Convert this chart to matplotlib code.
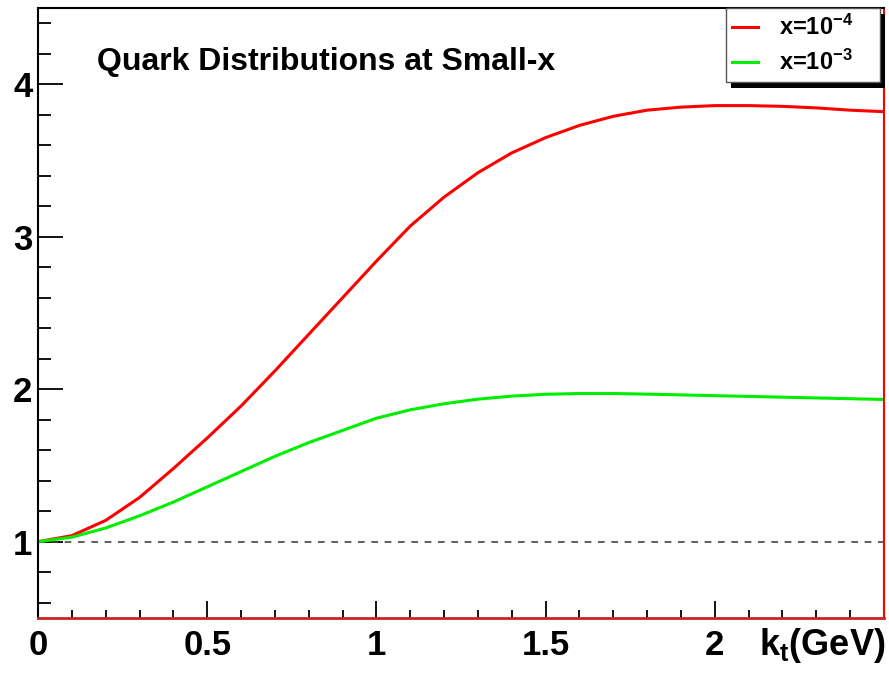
import matplotlib
matplotlib.use("Agg")
import matplotlib.pyplot as plt
from matplotlib.patches import Rectangle
from matplotlib.lines import Line2D
from matplotlib.ticker import MultipleLocator

plt.rcParams['font.family'] = ['Liberation Sans', 'DejaVu Sans']
plt.rcParams['mathtext.fontset'] = 'custom'
plt.rcParams['mathtext.rm'] = 'Liberation Sans:bold'
plt.rcParams['mathtext.bf'] = 'Liberation Sans:bold'
plt.rcParams['mathtext.it'] = 'Liberation Sans:bold'

kt = [0.0, 0.1, 0.2, 0.3, 0.4, 0.5, 0.6, 0.7, 0.8, 0.9, 1.0, 1.1, 1.2,
      1.3, 1.4, 1.5, 1.6, 1.7, 1.8, 1.9, 2.0, 2.1, 2.2, 2.3, 2.4, 2.5]
red_x1e4 = [1.00, 1.04, 1.14, 1.29, 1.48, 1.68, 1.89, 2.12, 2.36, 2.60, 2.84,
            3.07, 3.26, 3.42, 3.55, 3.65, 3.73, 3.79, 3.83, 3.85, 3.86, 3.86,
            3.855, 3.845, 3.83, 3.82]
green_x1e3 = [1.00, 1.03, 1.09, 1.17, 1.26, 1.36, 1.46, 1.56, 1.65, 1.73, 1.81,
              1.865, 1.905, 1.935, 1.955, 1.967, 1.972, 1.972, 1.968, 1.963,
              1.958, 1.953, 1.948, 1.943, 1.938, 1.933]
labels = [r'x=10$^{\mathregular{-4}}$', r'x=10$^{\mathregular{-3}}$']
colors = ['#ff0000', '#00ee00']
title = 'Quark Distributions at Small-x'
xlabel = r'k$_{\mathregular{t}}$(GeV)'

W, H = 889, 673
fig = plt.figure(figsize=(W/100, H/100), dpi=100)
ax = fig.add_axes([38/W, 1-618/H, (884-38)/W, (618-8)/H])

ax.axhline(1.0, color='#444444', lw=1.2, ls=(0, (4, 4)))
ax.plot(kt, red_x1e4, color=colors[0], lw=2.2, label=labels[0])
ax.plot(kt, green_x1e3, color=colors[1], lw=2.2, label=labels[1])

ax.set_xlim(0, 2.5)
ax.set_ylim(0.5, 4.5)
ax.xaxis.set_minor_locator(MultipleLocator(0.1))
ax.yaxis.set_minor_locator(MultipleLocator(0.2))
ax.set_xticks([0, 0.5, 1, 1.5, 2])
ax.set_xticklabels(['0', '0.5', '1', '1.5', '2'])
ax.set_yticks([1, 2, 3, 4])
ax.set_yticklabels(['1', '2', '3', '4'])
ax.tick_params(axis='x', which='major', direction='in', length=12, width=1.3,
               labelsize=25, pad=8)
ax.tick_params(axis='x', which='minor', direction='in', length=6, width=1.3)
ax.tick_params(axis='y', which='major', direction='in', length=18, width=1.3,
               labelsize=25, pad=4)
ax.tick_params(axis='y', which='minor', direction='in', length=9, width=1.3)
for lab in ax.get_xticklabels() + ax.get_yticklabels():
    lab.set_fontweight('bold')

for s in ['left', 'top']:
    ax.spines[s].set_linewidth(1.5)
    ax.spines[s].set_color('black')
ax.spines['bottom'].set_linewidth(2)
ax.spines['bottom'].set_color('#cc2222')
ax.spines['right'].set_linewidth(1.5)
ax.spines['right'].set_color('#ff0000')

fig.text(97/W, 1-62/H, title, fontsize=23,
         fontweight='bold', va='center', ha='left')
fig.text(885/W, 1-655/H, xlabel, fontsize=26, fontweight='bold',
         ha='right', va='baseline')

# legend drawn as a ROOT-style box with a black drop shadow
lx0, ly0, lx1, ly1 = 726, 8, 880, 82
fig.add_artist(Rectangle(((lx0 + 5)/W, 1 - (ly1 + 6)/H),
                         (lx1 - lx0)/W, (ly1 - ly0)/H, transform=fig.transFigure,
                         facecolor='black', edgecolor='none', zorder=9))
fig.add_artist(Rectangle((lx0/W, 1 - ly1/H), (lx1 - lx0)/W, (ly1 - ly0)/H,
                         transform=fig.transFigure, facecolor='white',
                         edgecolor='#555555', lw=1.0, zorder=10))
for i, (lab, c) in enumerate(zip(labels, colors)):
    yy = 1 - (27 + 35*i)/H
    fig.add_artist(Line2D([732/W, 758/W], [yy, yy], transform=fig.transFigure,
                          color=c, lw=2.2, zorder=11))
    fig.text(779/W, yy, lab, fontsize=17, fontweight='bold', ha='left',
             va='center', zorder=11)

fig.savefig('out.png', dpi=100)
